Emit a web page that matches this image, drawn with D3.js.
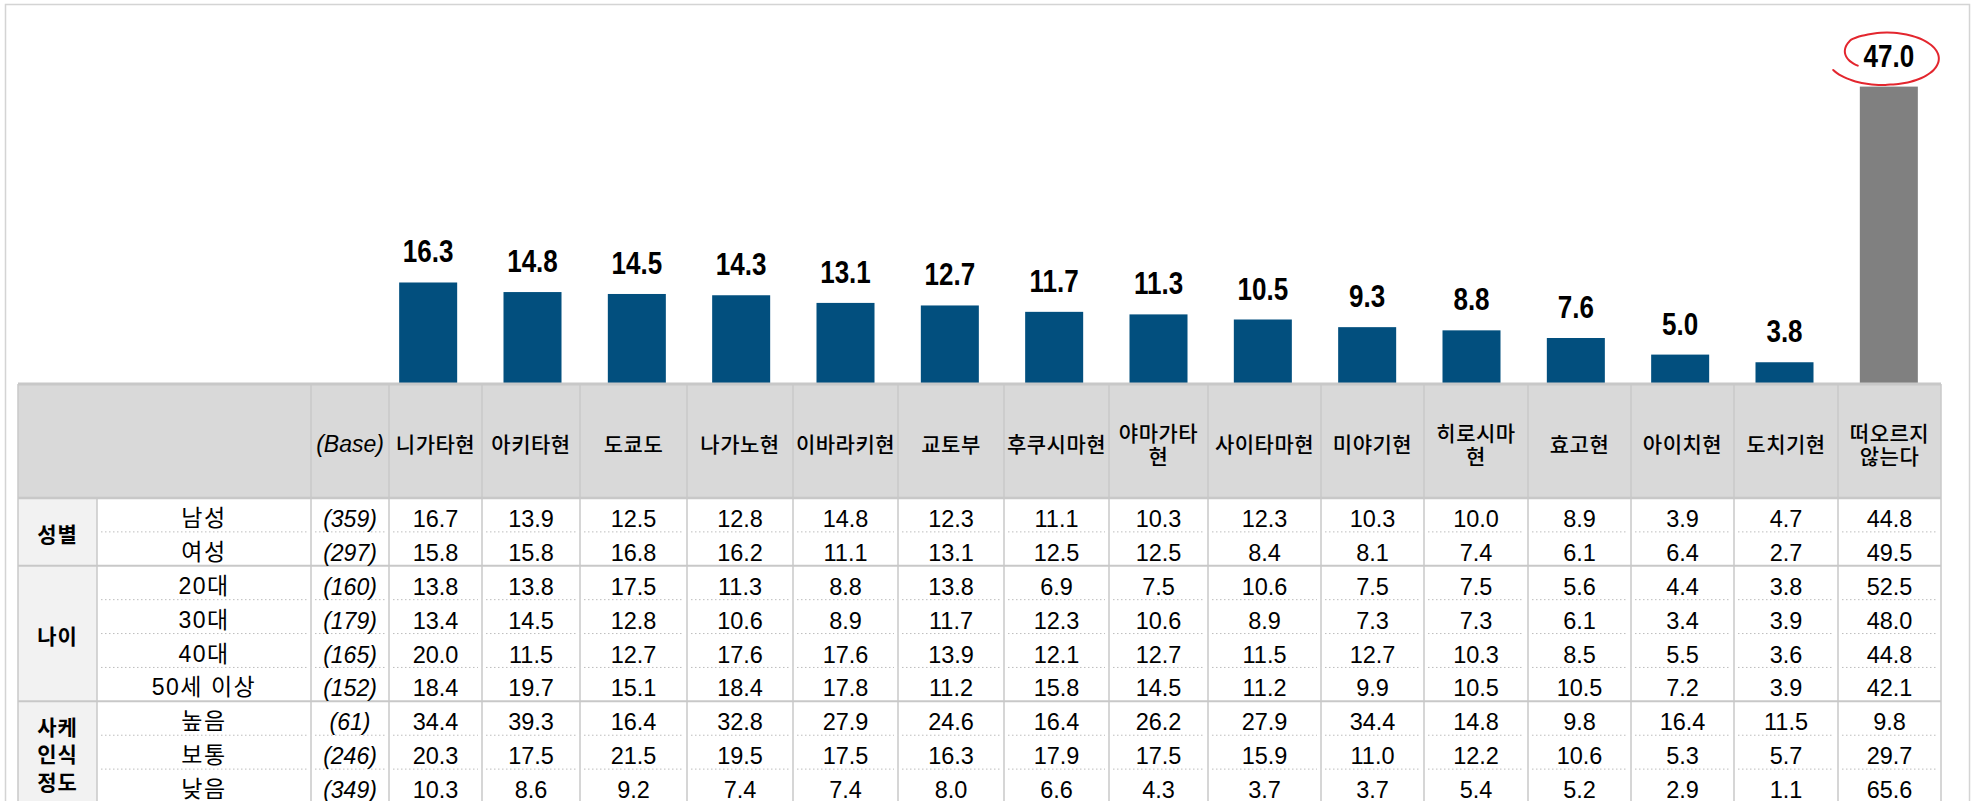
<!DOCTYPE html>
<html>
<head>
<meta charset="utf-8">
<script src="https://cdn.jsdelivr.net/npm/d3@7"></script>
<style>
  html, body { margin: 0; padding: 0; background: #fff; }
  svg { display: block; }
</style>
</head>
<body>
<svg id="chart"></svg>
<script>
// ---- data ----
const categories = ["니가타현", "아키타현", "도쿄도", "나가노현", "이바라키현", "교토부", "후쿠시마현",
    "야마가타현", "사이타마현", "미야기현", "히로시마현", "효고현", "아이치현", "도치기현", "떠오르지 않는다"];
const headerLabels = ["니가타현", "아키타현", "도쿄도", "나가노현", "이바라키현", "교토부", "후쿠시마현",
    "야마가타\n현", "사이타마현", "미야기현", "히로시마\n현", "효고현", "아이치현", "도치기현", "떠오르지\n않는다"];
const totals = [16.3, 14.8, 14.5, 14.3, 13.1, 12.7, 11.7, 11.3, 10.5, 9.3, 8.8, 7.6, 5.0, 3.8, 47.0];

const groupNames = ["성별", "나이", "사케\n인식\n정도"];
const groupSizes = [2, 4, 3];
const rowLabels = ["남성", "여성", "20대", "30대", "40대", "50세 이상", "높음", "보통", "낮음"];
const bases = [359, 297, 160, 179, 165, 152, 61, 246, 349];
const rowValues = [
    [16.7, 13.9, 12.5, 12.8, 14.8, 12.3, 11.1, 10.3, 12.3, 10.3, 10.0, 8.9, 3.9, 4.7, 44.8],
    [15.8, 15.8, 16.8, 16.2, 11.1, 13.1, 12.5, 12.5, 8.4, 8.1, 7.4, 6.1, 6.4, 2.7, 49.5],
    [13.8, 13.8, 17.5, 11.3, 8.8, 13.8, 6.9, 7.5, 10.6, 7.5, 7.5, 5.6, 4.4, 3.8, 52.5],
    [13.4, 14.5, 12.8, 10.6, 8.9, 11.7, 12.3, 10.6, 8.9, 7.3, 7.3, 6.1, 3.4, 3.9, 48.0],
    [20.0, 11.5, 12.7, 17.6, 17.6, 13.9, 12.1, 12.7, 11.5, 12.7, 10.3, 8.5, 5.5, 3.6, 44.8],
    [18.4, 19.7, 15.1, 18.4, 17.8, 11.2, 15.8, 14.5, 11.2, 9.9, 10.5, 10.5, 7.2, 3.9, 42.1],
    [34.4, 39.3, 16.4, 32.8, 27.9, 24.6, 16.4, 26.2, 27.9, 34.4, 14.8, 9.8, 16.4, 11.5, 9.8],
    [20.3, 17.5, 21.5, 19.5, 17.5, 16.3, 17.9, 17.5, 15.9, 11.0, 12.2, 10.6, 5.3, 5.7, 29.7],
    [10.3, 8.6, 9.2, 7.4, 7.4, 8.0, 6.6, 4.3, 3.7, 3.7, 5.4, 5.2, 2.9, 1.1, 65.6]
];

// ---- layout ----
const width = 1977;
const height = 801;
const colEdges = [18, 97, 311, 389, 482, 580, 687, 793, 898, 1004, 1109, 1208, 1321, 1424, 1528, 1631, 1734, 1838, 1941];
const tableLeft = colEdges[0];
const tableRight = colEdges[colEdges.length - 1];
const headTop = 384;
const headBottom = 498;
const lineColor = "#c8c8c8";
const numFont = "'Liberation Sans', 'Noto Sans CJK KR', sans-serif";

const svg = d3.select("#chart")
    .attr("width", width)
    .attr("height", height)
    .style("font-family", numFont);

// outer frame
svg.append("rect")
    .attr("x", 5.5).attr("y", 4.5)
    .attr("width", 1964).attr("height", 900)
    .attr("fill", "none")
    .attr("stroke", "#d4d4d4")
    .attr("stroke-width", 1.5);

// ---- bars ----
const x = d3.scaleBand()
    .domain(categories)
    .range([376, tableRight])
    .paddingInner(0.444)
    .paddingOuter(0.222);

const y = d3.scaleLinear()
    .domain([0, 47])
    .range([386.5, 86.6]);

const last = categories[categories.length - 1];

svg.append("g").selectAll("rect")
    .data(categories)
    .join("rect")
    .attr("x", d => x(d))
    .attr("y", (d, i) => y(totals[i]))
    .attr("width", x.bandwidth())
    .attr("height", (d, i) => y(0) - y(totals[i]))
    .attr("fill", d => d === last ? "#808080" : "#024f7e");

// value labels, squeezed a bit to look condensed
svg.append("g").selectAll("text")
    .data(categories)
    .join("text")
    .attr("transform", (d, i) => `translate(${x(d) + x.bandwidth() / 2},${y(totals[i]) - 20}) scale(0.84,1)`)
    .attr("text-anchor", "middle")
    .style("font-weight", "bold")
    .style("font-size", "31px")
    .attr("fill", "#000")
    .text((d, i) => totals[i].toFixed(1));

// hand drawn red loop around the last label
const cx = x(last) + x.bandwidth() / 2 - 2;
const cy = y(totals[totals.length - 1]) - 28;
const loopPts = d3.range(0, 1.0001, 0.02).map(t => {
    const a = Math.PI - 0.45 + t * (2 * Math.PI + 0.05);
    const grow = 0.62 + 0.38 * Math.min(1, t * 5);
    const over = 1 + 0.12 * Math.max(0, (t - 0.8) / 0.2);
    return [cx + 52 * grow * over * Math.cos(a), cy + 26 * grow * over * Math.sin(a)];
});
svg.append("path")
    .attr("d", d3.line().curve(d3.curveCatmullRom)(loopPts))
    .attr("fill", "none")
    .attr("stroke", "#e3262e")
    .attr("stroke-width", 2)
    .attr("stroke-linecap", "round");

// ---- table ----
const rowY = d3.scaleBand()
    .domain(d3.range(rowLabels.length))
    .range([headBottom, 803]);
const rowMid = i => rowY(i) + rowY.bandwidth() / 2;

const groupStarts = groupSizes.map((s, i) => d3.sum(groupSizes.slice(0, i)));

const table = svg.append("g");

// header background
table.append("rect")
    .attr("x", tableLeft).attr("y", headTop)
    .attr("width", tableRight - tableLeft).attr("height", headBottom - headTop)
    .attr("fill", "#d9d9d9");

// body background (white) and group column
table.append("rect")
    .attr("x", tableLeft).attr("y", headBottom)
    .attr("width", tableRight - tableLeft).attr("height", height - headBottom)
    .attr("fill", "#fff");
table.append("rect")
    .attr("x", colEdges[0]).attr("y", headBottom)
    .attr("width", colEdges[1] - colEdges[0]).attr("height", height - headBottom)
    .attr("fill", "#f2f2f2");

// dotted row separators inside groups
const dotted = [];
groupStarts.forEach((start, g) => {
    for (let r = start; r < start + groupSizes[g] - 1; r++) {
        for (let c = 1; c < colEdges.length - 1; c++) {
            dotted.push({ x1: colEdges[c] + 4, x2: colEdges[c + 1] - 4, yy: rowY(r) + rowY.bandwidth() });
        }
    }
});
table.append("g").selectAll("line")
    .data(dotted)
    .join("line")
    .attr("x1", d => d.x1).attr("x2", d => d.x2)
    .attr("y1", d => d.yy).attr("y2", d => d.yy)
    .attr("stroke", "#bdbdbd")
    .attr("stroke-width", 1)
    .attr("stroke-dasharray", "1.5,2.5");

// vertical lines
table.append("g").selectAll("line")
    .data(colEdges)
    .join("line")
    .attr("x1", d => d).attr("x2", d => d)
    .attr("y1", (d, i) => i === 1 ? headBottom : headTop)
    .attr("y2", height)
    .attr("stroke", lineColor)
    .attr("stroke-width", 1.5);

// horizontal solid lines: top, header bottom, group separators
const hLines = [{ yy: headTop, w: 3 }, { yy: headBottom, w: 2.5 }]
    .concat(groupStarts.slice(1).map(s => ({ yy: rowY(s), w: 2 })));
table.append("g").selectAll("line")
    .data(hLines)
    .join("line")
    .attr("x1", tableLeft).attr("x2", tableRight)
    .attr("y1", d => d.yy).attr("y2", d => d.yy)
    .attr("stroke", lineColor)
    .attr("stroke-width", d => d.w);

// header text
const headMid = (headTop + headBottom) / 2 + 3;
const colMid = c => (colEdges[c] + colEdges[c + 1]) / 2;

table.append("text")
    .attr("x", colMid(2)).attr("y", headMid)
    .attr("text-anchor", "middle")
    .attr("dominant-baseline", "central")
    .style("font-size", "23px")
    .style("font-style", "italic")
    .text("(Base)");

const headText = table.append("g").selectAll("text")
    .data(headerLabels)
    .join("text")
    .attr("text-anchor", "middle")
    .style("font-size", "21px")
    .style("font-weight", "500")
    .style("letter-spacing", "0.5px")
    .attr("dominant-baseline", "central");
headText.each(function (d, i) {
    const lines = d.split("\n");
    const lh = 23;
    const y0 = headMid - (lines.length - 1) * lh / 2;
    d3.select(this).selectAll("tspan")
        .data(lines)
        .join("tspan")
        .attr("x", colMid(3 + i))
        .attr("y", (l, k) => y0 + k * lh)
        .text(l => l);
});

// group labels
table.append("g").selectAll("text")
    .data(groupNames)
    .join("text")
    .attr("text-anchor", "middle")
    .attr("dominant-baseline", "central")
    .style("font-size", "21px")
    .style("font-weight", "bold")
    .style("letter-spacing", "1px")
    .each(function (d, g) {
        const lines = d.split("\n");
        const lh = 27.5;
        const top = rowY(groupStarts[g]);
        const bottom = rowY(groupStarts[g] + groupSizes[g] - 1) + rowY.bandwidth();
        const y0 = (top + bottom) / 2 + 2 - (lines.length - 1) * lh / 2;
        d3.select(this).selectAll("tspan")
            .data(lines)
            .join("tspan")
            .attr("x", colMid(0))
            .attr("y", (l, k) => y0 + k * lh)
            .text(l => l);
    });

// row labels
table.append("g").selectAll("text")
    .data(rowLabels)
    .join("text")
    .attr("x", colMid(1))
    .attr("y", (d, i) => rowMid(i) + 3)
    .attr("text-anchor", "middle")
    .attr("dominant-baseline", "central")
    .style("font-size", "23px")
    .style("letter-spacing", "1.5px")
    .text(d => d);

// base sizes
table.append("g").selectAll("text")
    .data(bases)
    .join("text")
    .attr("x", colMid(2))
    .attr("y", (d, i) => rowMid(i) + 4)
    .attr("text-anchor", "middle")
    .attr("dominant-baseline", "central")
    .style("font-size", "23px")
    .style("font-style", "italic")
    .text(d => `(${d})`);

// values
table.append("g").selectAll("g")
    .data(rowValues)
    .join("g")
    .each(function (vals, r) {
        d3.select(this).selectAll("text")
            .data(vals)
            .join("text")
            .attr("x", (v, c) => colMid(3 + c))
            .attr("y", rowMid(r) + 4)
            .attr("text-anchor", "middle")
            .attr("dominant-baseline", "central")
            .style("font-size", "23.5px")
            .text(v => v.toFixed(1));
    });
</script>
</body>
</html>
